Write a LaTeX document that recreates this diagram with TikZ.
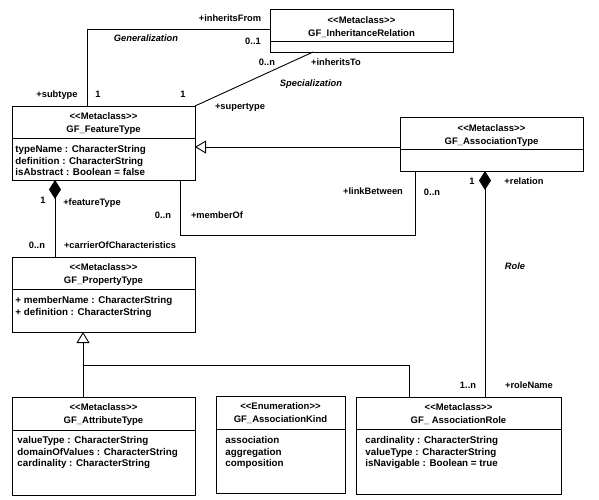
\documentclass[tikz,border=0pt]{standalone}
\usepackage{fontspec}
\setmainfont{Liberation Sans}
\usetikzlibrary{arrows.meta}
\newcommand{\stereo}[1]{<\kern0pt<#1>\kern0pt>}
\begin{document}
\begin{tikzpicture}[x=1pt,y=-1pt, line width=0.9pt,
  cls/.style={draw, anchor=north west, inner sep=0pt, outer sep=0pt},
  txt/.style={font=\fontsize{9.8}{11.2}\selectfont\bfseries, inner sep=0pt, align=left, anchor=north west},
  ttl/.style={font=\fontsize{9.5}{12.5}\selectfont\bfseries, inner sep=0pt, align=center, anchor=north},
  lbl/.style={font=\fontsize{9.3}{11}\selectfont\bfseries, inner sep=0pt, text height=6.7pt, text depth=0pt},
  rl/.style={lbl, font=\fontsize{9.3}{11}\selectfont\bfseries\itshape},
  comp/.style={{Diamond[length=19pt,width=12pt]}-},
  gen/.style={-{Triangle[open,length=11pt,width=13pt,fill=white]}}
]
\useasboundingbox (0,0) rectangle (599,499);

% ---- classes ----
\node[cls, minimum width=183pt, minimum height=43pt] (inh) at (270,9) {};
\draw (inh.west |- 0,41) -- (inh.east |- 0,41);
\node[ttl] (inht) at (361.5,16.4) {\stereo{Metaclass}\\GF\_InheritanceRelation};

\node[cls, minimum width=183pt, minimum height=74pt] (ft) at (12,106) {};
\draw (ft.west |- 0,138) -- (ft.east |- 0,138);
\node[ttl] (ftt) at (103.5,112.4) {\stereo{Metaclass}\\GF\_FeatureType};
\node[txt] (fta) at (15,145.3) {typeName : CharacterString\\definition : CharacterString\\isAbstract : Boolean = false};

\node[cls, minimum width=183pt, minimum height=54pt] (at) at (400,117) {};
\draw (at.west |- 0,149) -- (at.east |- 0,149);
\node[ttl] (att) at (491.5,124.4) {\stereo{Metaclass}\\GF\_AssociationType};

\node[cls, minimum width=183pt, minimum height=75pt] (pt) at (12,257) {};
\draw (pt.west |- 0,289) -- (pt.east |- 0,289);
\node[ttl] (ptt) at (103.5,263.4) {\stereo{Metaclass}\\GF\_PropertyType};
\node[txt] (pta) at (15,296.3) {+ memberName : CharacterString\\+ definition : CharacterString};

\node[cls, minimum width=183pt, minimum height=98pt] (attr) at (12,397) {};
\draw (attr.west |- 0,430) -- (attr.east |- 0,430);
\node[ttl] (attrt) at (103.5,403.4) {\stereo{Metaclass}\\GF\_AttributeType};
\node[txt] (attra) at (17,436.3) {valueType : CharacterString\\domainOfValues : CharacterString\\cardinality : CharacterString};

\node[cls, minimum width=129pt, minimum height=97pt] (kind) at (216,396) {};
\draw (kind.west |- 0,429) -- (kind.east |- 0,429);
\node[ttl] (kindt) at (280.5,402.4) {\stereo{Enumeration}\\GF\_AssociationKind};
\node[txt] (kinda) at (225,436.3) {association\\aggregation\\composition};

\node[cls, minimum width=205pt, minimum height=97pt] (role) at (356,397) {};
\draw (role.west |- 0,429) -- (role.east |- 0,429);
\node[ttl] (rolet) at (458.5,403.4) {\stereo{Metaclass}\\GF\_ AssociationRole};
\node[txt] (rolea) at (365,436.3) {cardinality : CharacterString\\valueType : CharacterString\\isNavigable : Boolean = true};

% ---- connectors ----
\draw (ft.north -| 87,0) |- (inh.west |- 0,29);
\draw (ft.north east) -- (inh.south -| 313,0);
\draw[gen] (at.west |- 0,147) -- (ft.east |- 0,147);
\draw[comp] (ft.south -| 55,0) -- (pt.north -| 55,0);
\draw (ft.south -| 180,0) |- (415,235) -- (at.south -| 415,0);
\draw[comp] (at.south -| 485,0) -- (role.north -| 485,0);
\draw[gen] (attr.north -| 83,0) -- (pt.south -| 83,0);
\coordinate (br) at (83,365);
\draw (br) -| (role.north -| 409,0);

% ---- labels ----
\node[lbl] (l1) at (230,18) {+inheritsFrom};
\node[rl] (l2) at (146,38) {Generalization};
\node[lbl] (l3) at (253,41) {0..1};
\node[lbl] (l4) at (267,62) {0..n};
\node[lbl] (l5) at (336,62) {+inheritsTo};
\node[rl] (l6) at (311,83) {Specialization};
\node[lbl] (l7) at (57,94) {+subtype};
\node[lbl] (l8) at (98,94) {1};
\node[lbl] (l9) at (183,94) {1};
\node[lbl] (l10) at (240,106) {+supertype};
\node[lbl] (l11) at (43,200) {1};
\node[lbl] (l12) at (92,202) {+featureType};
\node[lbl] (l13) at (163,215) {0..n};
\node[lbl] (l14) at (217,215) {+memberOf};
\node[lbl] (l15) at (373,191) {+linkBetween};
\node[lbl] (l16) at (432,192) {0..n};
\node[lbl] (l17) at (37,245) {0..n};
\node[lbl] (l18) at (120,245) {+carrierOfCharacteristics};
\node[lbl] (l19) at (472,181) {1};
\node[lbl] (l20) at (524,181) {+relation};
\node[rl] (l21) at (515,266) {Role};
\node[lbl] (l22) at (468,385) {1..n};
\node[lbl] (l23) at (529,385) {+roleName};
\end{tikzpicture}
\end{document}
